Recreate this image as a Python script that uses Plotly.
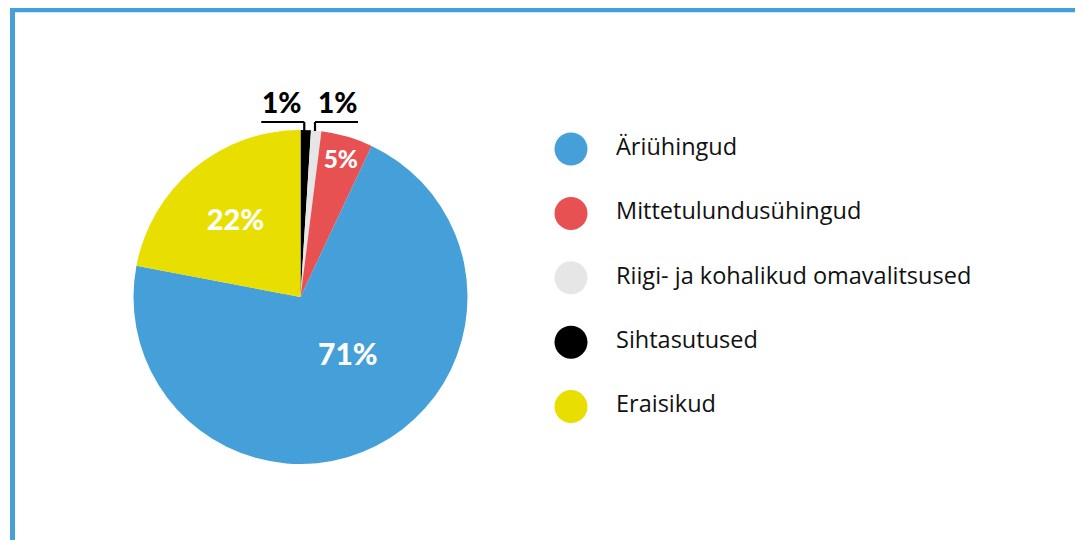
import math
import plotly.graph_objects as go

# Pie data (clockwise from 12 o'clock)
pie_labels = ["Sihtasutused", "Riigi- ja kohalikud omavalitsused", "Mittetulundusühingud", "Äriühingud", "Eraisikud"]
pie_values = [1, 1, 5, 71, 22]
pie_colors = ["#000000", "#e6e6e6", "#e85152", "#459fd8", "#e8de00"]

# Legend order
legend_labels = ["Äriühingud", "Mittetulundusühingud", "Riigi- ja kohalikud omavalitsused", "Sihtasutused", "Eraisikud"]
legend_colors = ["#459fd8", "#e85152", "#e6e6e6", "#000000", "#e8de00"]

W, H = 1083, 540
OFF = 8  # page body margin
frame_color = "#459fd8"


def px2x(x):
    return (x - OFF) / W


def px2y(y):
    return 1 - (y - OFF) / H


# Pie geometry (screen pixels)
cx, cy, R = 300.5, 297, 167

manual = {71}
text_positions = ["none" if (v <= 1 or v in manual) else "inside" for v in pie_values]
texts = [f"{v}%" for v in pie_values]

fig = go.Figure()
fig.add_trace(go.Pie(
    labels=pie_labels, values=pie_values, sort=False, direction="clockwise", rotation=0,
    marker=dict(colors=pie_colors, line=dict(width=0)),
    text=texts, textinfo="text", textposition=text_positions,
    insidetextorientation="horizontal",
    insidetextfont=dict(family="Lato", size=29, color="white", weight=900),
    domain=dict(x=[px2x(cx - R), px2x(cx + R)], y=[px2y(cy + R), px2y(cy - R)]),
    showlegend=False, hoverinfo="label+percent",
))

# Legend drawn as marker + text scatter on hidden axes
leg_x = 571
txt_x = 616
fig.add_trace(go.Scatter(
    x=[leg_x - OFF] * len(legend_labels), y=legend_labels, mode="markers",
    marker=dict(size=33, color=legend_colors), showlegend=False, hoverinfo="skip",
    xaxis="x", yaxis="y",
))
fig.add_trace(go.Scatter(
    x=[txt_x - OFF] * len(legend_labels), y=legend_labels, mode="text",
    text=legend_labels, textposition="middle right",
    textfont=dict(family="Open Sans", size=23.5, color="#111111"),
    showlegend=False, hoverinfo="skip", xaxis="x", yaxis="y",
))

step = 64.4
top = 149 - step / 2
bot = top + step * len(legend_labels)
fig.update_layout(
    xaxis=dict(range=[0, W], domain=[0, 1], visible=False, fixedrange=True),
    yaxis=dict(type="category", categoryarray=legend_labels, range=[len(legend_labels) - 0.5, -0.5],
               domain=[px2y(bot), px2y(top)], visible=False, fixedrange=True),
)

shapes = []
annotations = []

# Label for the large slice, placed inside it
cum = 0
for v, t in zip(pie_values, texts):
    mid = cum + v / 2
    cum += v
    if v in manual:
        ang = 2 * math.pi * mid / sum(pie_values)
        rr = 0.375 * R
        lx = cx + rr * math.sin(ang) + 19
        ly = cy - rr * math.cos(ang)
        annotations.append(dict(x=px2x(lx), y=px2y(ly), xref="paper", yref="paper",
                                text=t, showarrow=False, xanchor="center", yanchor="middle",
                                font=dict(family="Lato", size=30, color="white", weight=900)))

# Outside "1%" labels with leader lines for the small slices
cum = 0
small = []
for v, t in zip(pie_values, texts):
    mid = cum + v / 2
    cum += v
    if v <= 1:
        small.append((mid, t))

line_y = 122
for i, (mid, t) in enumerate(small):
    ang = 2 * math.pi * mid / sum(pie_values)
    px = cx + R * math.sin(ang)
    px = px + (-1.5 if i == 0 else 14.5 - (px - cx))
    sgn = -1 if i == 0 else 1
    x_end = px + sgn * 43
    shapes.append(dict(type="line", xref="paper", yref="paper",
                       x0=px2x(px), y0=px2y(cy - R + 1), x1=px2x(px), y1=px2y(line_y),
                       line=dict(color="black", width=2.2)))
    shapes.append(dict(type="line", xref="paper", yref="paper",
                       x0=px2x(px), y0=px2y(line_y), x1=px2x(x_end), y1=px2y(line_y),
                       line=dict(color="black", width=2.2)))
    annotations.append(dict(x=px2x((px + x_end) / 2 + sgn * 1), y=px2y(102), xref="paper", yref="paper",
                            text=t, showarrow=False, xanchor="center", yanchor="middle",
                            font=dict(family="Lato", size=28, color="black", weight=900)))

# Frame lines
shapes.append(dict(type="line", xref="paper", yref="paper", x0=px2x(12.5), y0=px2y(9.8), x1=1.05, y1=px2y(9.8),
                   line=dict(color=frame_color, width=5)))
shapes.append(dict(type="line", xref="paper", yref="paper", x0=px2x(12.5), y0=px2y(7.3), x1=px2x(12.5), y1=-0.05,
                   line=dict(color=frame_color, width=5)))

fig.update_layout(
    width=W, height=H, margin=dict(l=0, r=0, t=0, b=0),
    paper_bgcolor="white", plot_bgcolor="white",
    shapes=shapes, annotations=annotations, showlegend=False,
)

fig.write_html("out.html")
